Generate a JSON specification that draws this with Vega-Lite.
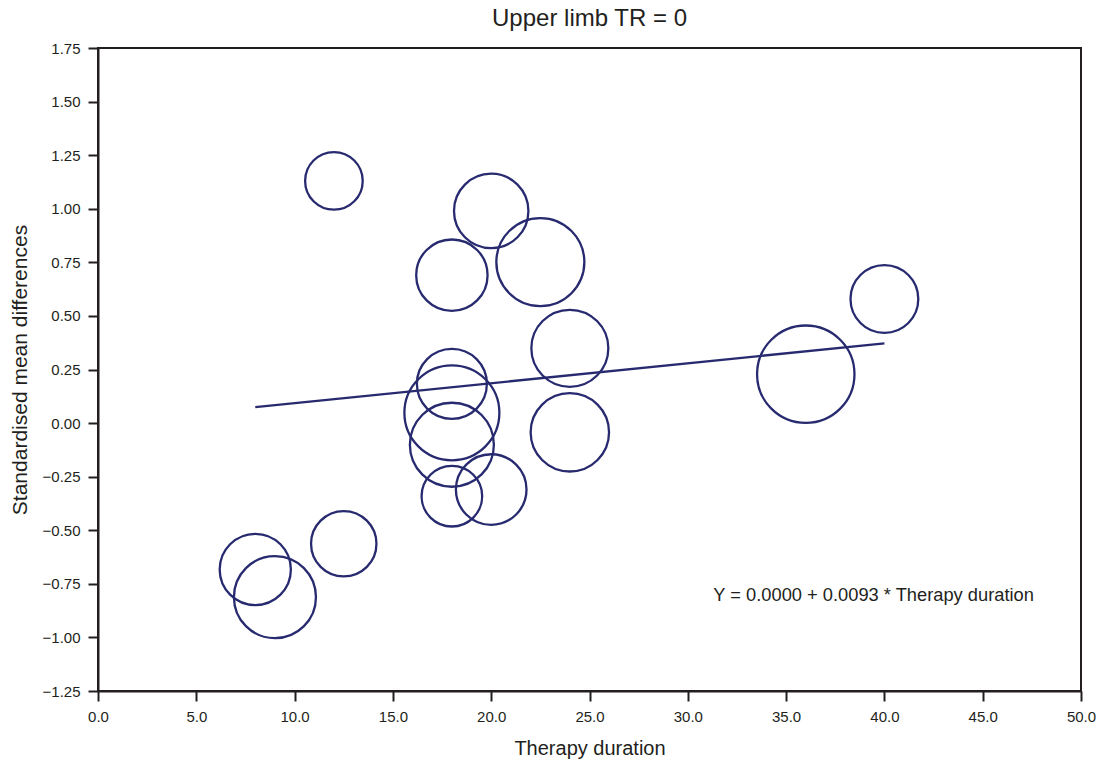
{
  "$schema": "https://vega.github.io/schema/vega-lite/v6.json",
  "autosize": "none",
  "width": 983,
  "height": 643,
  "padding": {"left": 98, "top": 48, "right": 23, "bottom": 72},
  "background": "white",
  "config": {
    "font": "Liberation Sans",
    "view": {"stroke": "#231f20", "strokeWidth": 2},
    "axis": {
      "grid": false,
      "domainColor": "#231f20",
      "domainWidth": 2,
      "tickColor": "#231f20",
      "tickWidth": 2,
      "tickSize": 10,
      "labelColor": "#231f20",
      "labelFontSize": 15,
      "labelFont": "Liberation Sans",
      "labelFlush": false,
      "labelOverlap": false,
      "titleColor": "#231f20",
      "titleFontSize": 20,
      "titleFont": "Liberation Sans",
      "titleFontWeight": "normal"
    }
  },
  "title": {
    "text": "Upper limb TR = 0",
    "fontSize": 24,
    "fontWeight": "normal",
    "font": "Liberation Sans",
    "color": "#231f20",
    "anchor": "middle",
    "offset": 10
  },
  "datasets": {
    "studies": [
      {"duration": 12, "smd": 1.130, "weight": 8.29},
      {"duration": 20, "smd": 0.990, "weight": 13.84},
      {"duration": 22.5, "smd": 0.751, "weight": 19.36},
      {"duration": 18, "smd": 0.690, "weight": 12.74},
      {"duration": 40, "smd": 0.579, "weight": 11.49},
      {"duration": 24, "smd": 0.349, "weight": 14.82},
      {"duration": 36, "smd": 0.228, "weight": 23.72},
      {"duration": 18, "smd": 0.183, "weight": 12.25},
      {"duration": 18, "smd": 0.048, "weight": 22.56},
      {"duration": 18, "smd": -0.101, "weight": 17.64},
      {"duration": 18, "smd": -0.341, "weight": 9.18},
      {"duration": 20, "smd": -0.310, "weight": 12.46},
      {"duration": 24, "smd": -0.043, "weight": 15.37},
      {"duration": 12.5, "smd": -0.563, "weight": 10.69},
      {"duration": 8, "smd": -0.683, "weight": 12.67},
      {"duration": 9, "smd": -0.812, "weight": 16.81}
    ],
    "fit": [
      {"duration": 8, "smd": 0.0744},
      {"duration": 40, "smd": 0.372}
    ],
    "equation": [
      {"duration": 31.3, "smd": -0.805, "label": "Y = 0.0000 + 0.0093 * Therapy duration"}
    ]
  },
  "layer": [
    {
      "data": {"name": "studies"},
      "mark": {"type": "point", "shape": "circle", "filled": false, "strokeWidth": 2.3, "color": "#272a6f", "opacity": 1},
      "encoding": {
        "x": {
          "field": "duration",
          "type": "quantitative",
          "scale": {"domain": [0, 50], "nice": false, "zero": false},
          "axis": {
            "title": "Therapy duration",
            "values": [0, 5, 10, 15, 20, 25, 30, 35, 40, 45, 50],
            "format": ".1f",
            "labelPadding": 8,
            "titlePadding": 14
          }
        },
        "y": {
          "field": "smd",
          "type": "quantitative",
          "scale": {"domain": [-1.25, 1.75], "nice": false, "zero": false},
          "axis": {
            "title": "Standardised mean differences",
            "titleFontSize": 21,
            "values": [-1.25, -1, -0.75, -0.5, -0.25, 0, 0.25, 0.5, 0.75, 1, 1.25, 1.5, 1.75],
            "format": ".2f",
            "labelPadding": 8,
            "titlePadding": 12
          }
        },
        "size": {
          "field": "weight",
          "type": "quantitative",
          "scale": {"domain": [0, 25], "range": [0, 10000], "zero": true},
          "legend": null
        }
      }
    },
    {
      "data": {"name": "fit"},
      "mark": {"type": "line", "color": "#272a6f", "strokeWidth": 2.3},
      "encoding": {
        "x": {"field": "duration", "type": "quantitative"},
        "y": {"field": "smd", "type": "quantitative"}
      }
    },
    {
      "data": {"name": "equation"},
      "mark": {"type": "text", "align": "left", "baseline": "middle", "fontSize": 18.3, "font": "Liberation Sans", "color": "#231f20"},
      "encoding": {
        "x": {"field": "duration", "type": "quantitative"},
        "y": {"field": "smd", "type": "quantitative"},
        "text": {"field": "label"}
      }
    }
  ]
}
